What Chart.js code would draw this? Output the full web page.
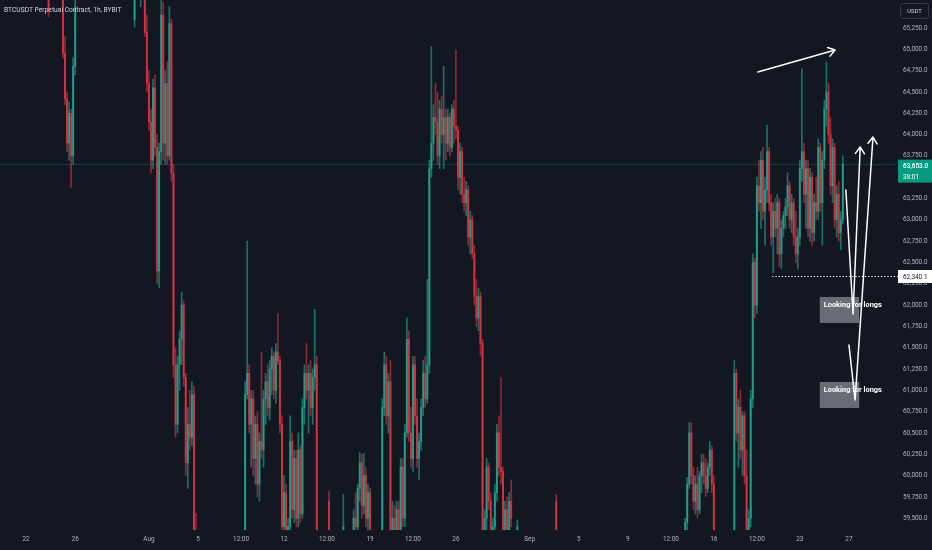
<!DOCTYPE html>
<html>
<head>
<meta charset="utf-8">
<title>BTCUSDT Perpetual Contract, 1h, BYBIT</title>
<script src="https://cdn.jsdelivr.net/npm/chart.js@4.4.1/dist/chart.umd.min.js"></script>
<style>
  html, body { margin: 0; padding: 0; background: #131722; }
  #wrap { width: 932px; height: 550px; }
</style>
</head>
<body>
<div id="wrap"><canvas id="chart" width="932" height="550"></canvas></div>
<script>
// hours counted from Jul 22 00:00 ; only the candles that show inside the price window
var candleHour = [
  44,72,76,80,84,88,92,96,
  212,224,
  232,236,240,244,248,252,256,260,264,268,272,276,280,284,288,292,296,300,304,308,312,316,320,324,328,332,
  428,432,436,440,444,448,452,456,460,464,468,472,476,480,484,488,492,496,500,504,508,512,516,520,524,528,532,536,540,544,548,552,556,560,564,568,
  592,620,640,644,648,652,656,660,664,668,672,
  696,700,704,708,712,716,720,724,728,732,736,740,744,748,752,756,760,764,768,772,776,780,784,788,792,796,800,804,808,812,816,820,824,828,832,836,840,844,848,852,856,860,864,868,872,876,880,884,888,892,896,900,904,908,912,916,920,924,928,932,936,940,944,948,960,1036,
  1288,1292,1296,1300,1304,1308,1312,1316,1320,1324,1328,1332,1336,1340,1344,
  1384,1388,1392,1396,1400,1404,1408,1412,1416,1420,1424,1428,1432,1436,1440,1444,1448,1452,1456,1460,1464,1468,1472,1476,1480,1484,1488,1492,1496,1500,1504,1508,1512,1516,1520,1524,1528,1532,1536,1540,1544,1548,1552,1556,1560,1564,1568,1572,1576,1580,1584,1588,1592,1596
];
var openVals = [
  65900,65800,64950,64420,63900,64250,63750,64800,
  65350,65700,
  65900,65200,64600,64150,63700,64550,63850,62400,63800,65400,63900,64600,63750,65300,63550,61300,60600,61300,61600,62000,61150,60150,60600,60450,60950,59300,
  59100,60950,61200,60600,60900,60200,60600,59900,60400,60300,60900,61100,60800,61250,61400,61000,61450,61350,60600,59400,59800,59200,59400,60400,59600,60200,59500,60300,59550,60800,61200,61000,61200,60800,61150,61300,
  59700,59300,59200,59500,59400,59850,60150,59650,60000,59500,59800,
  59100,60800,61300,60700,61100,59300,59500,59200,59600,59300,60100,59500,60500,61600,60500,60200,61300,60700,60200,60400,60800,61200,60900,61300,63600,63900,64200,64150,63750,64300,64000,64200,63900,64200,63850,64300,64100,64050,63500,63800,63300,63200,63350,62800,63000,62600,62100,61850,62100,61550,59300,59500,60100,59700,59200,59400,59800,60500,60100,60050,59300,59600,59350,59700,59300,59700,
  59100,59450,59900,60500,60000,59700,59900,59600,60000,60150,60000,59850,60100,60300,59900,
  59100,61200,60500,60800,60300,60700,60000,59200,59500,60900,62500,62000,63400,63200,63700,63100,63350,63800,63200,62800,63100,62900,63200,62600,62900,63050,63150,63400,63000,63200,62800,62600,62800,63600,63800,63300,63600,62900,63500,62850,63200,63100,63850,63200,63700,64300,64500,64000,63400,63850,63000,63300,62850,63000
];
var highVals = [
  66000,66000,65150,64500,64380,64300,64900,66000,
  66000,66000,
  66000,65400,64750,64300,64650,64700,64000,63900,66000,65550,64750,64850,65500,65350,63650,61500,61400,61700,62150,62050,61200,60800,61000,61100,61050,59560,
  61100,62750,61300,61000,61000,60700,60750,60500,61450,61000,61200,61300,61350,61500,61450,61550,61900,61400,60700,60000,59900,59500,60700,60500,60300,60300,60500,60350,60900,61300,61550,61300,61350,61250,61950,61400,
  59820,59780,59600,59800,59900,60270,60250,60260,60100,59900,59850,
  60900,61450,61400,61200,61350,59700,59650,59700,59700,60200,60200,60600,61850,61700,60800,61400,61400,60900,60500,60900,61350,61400,62300,63700,65030,64350,64600,64500,64400,64450,64800,64300,64300,64250,64350,64400,64990,64100,63900,63850,63500,63450,63400,63100,63050,62700,62300,62200,62150,61600,59600,60200,60150,59800,59500,59900,60600,60700,61150,60100,59700,59750,59800,59950,59480,59780,
  59500,59980,60620,60620,60100,60000,60100,60050,60250,60250,60200,60150,60400,60350,60000,
  61350,61250,60900,61000,60750,60750,60300,59600,61000,62600,62550,63500,63700,63800,63850,63500,64110,63850,63300,63200,63250,63300,63250,63000,63100,63250,63550,63450,63300,63250,63100,62900,63700,64770,63900,63700,63700,63600,63550,63300,63500,63950,63900,63800,64400,64850,64600,64200,63950,63900,63400,63450,63100,63750
];
var lowVals = [
  65380,64900,64350,63800,63700,63380,63650,64700,
  65260,65500,
  65150,64500,64050,63550,63600,63750,62250,62200,63650,63700,63650,63650,63700,63450,61150,60450,60500,61000,61300,61050,60000,59850,60300,60350,59000,59000,
  59000,60900,60500,60100,60000,59900,59750,59700,60200,60100,60600,60700,60650,60950,60900,60850,61300,60500,59200,59000,59000,59000,59300,59500,59450,59400,59400,59450,59500,60600,60900,60500,60700,60600,61000,59000,
  59000,59000,59000,59300,59350,59700,59500,59550,59400,59300,59000,
  59000,60700,60600,60500,59000,59000,59000,59000,59100,59100,59400,59400,60450,60400,60100,60050,60600,60100,59950,60300,60700,60800,60850,61200,63500,63700,64000,63650,63600,63900,63600,63700,63800,63750,63800,63900,63950,63350,63300,63200,63100,63050,62700,62600,62550,62000,61750,61700,61400,59000,59000,59300,59600,59000,59000,59200,59700,60000,59900,59200,59100,59250,59200,59400,59000,59000,
  59000,59350,59850,59900,59600,59550,59500,59550,59800,59900,59750,59800,60000,59800,59000,
  59000,60400,60100,60200,60000,59900,59000,59000,59400,60800,61850,61900,63100,62900,63000,62700,63200,63100,62700,62380,62800,62600,62450,62430,62800,62900,63050,62900,62850,62700,62500,62420,62700,63450,63200,62900,62800,62750,62700,62750,63000,63000,63100,62700,63600,64100,63900,63300,63200,62900,62800,62750,62650,62950
];
var closeVals = [
  65450,64950,64420,63900,64250,63750,64800,65500,
  65900,65800,
  65200,64600,64150,63700,64550,63850,62400,63800,65400,63900,64600,63750,65300,63550,61300,60600,61300,61600,62000,61150,60150,60600,60450,60950,59300,59150,
  60950,61200,60600,60900,60200,60600,59900,60400,60300,60900,61100,60800,61250,61400,61000,61450,61350,60600,59400,59800,59200,59400,60400,59600,60200,59500,60300,59550,60800,61200,61000,61200,60800,61150,61300,59300,
  59200,59400,59500,59400,59850,60150,59650,60000,59500,59800,59200,
  60800,61300,60700,61100,59300,59500,59200,59600,59300,60100,59500,60500,61600,60500,60200,61300,60700,60200,60400,60800,61200,60900,61300,63600,63900,64200,64150,63750,64300,64000,64200,63900,64200,63850,64300,64100,64050,63500,63800,63300,63200,63350,62800,63000,62600,62100,61850,62100,61550,59300,59500,60100,59700,59200,59400,59800,60500,60100,60050,59300,59600,59350,59700,59500,59400,59200,
  59450,59900,60500,60000,59700,59900,59600,60000,60150,60000,59850,60100,60300,59900,59300,
  61200,60500,60800,60300,60700,60000,59200,59500,60900,62500,62000,63400,63200,63700,63100,63350,63800,63200,62800,63100,62900,63200,62600,62900,63050,63150,63400,63000,63200,62800,62600,62800,63600,63800,63300,63600,62900,63500,62850,63200,63100,63850,63200,63700,64300,64500,64000,63400,63850,63000,63300,62850,63000,63653
];

// axis labels (hour offsets from Jul 22 00:00)
var xTickHours = [0, 96, 240, 336, 420, 504, 588, 672, 756, 840, 984, 1080, 1176, 1260, 1344, 1428, 1512, 1608];
var xTickLabels = ['22', '26', 'Aug', '5', '12:00', '12', '12:00', '19', '12:00', '26', 'Sep', '5', '9', '12:00', '16', '12:00', '23', '27'];
var yTickValues = [59500, 59750, 60000, 60250, 60500, 60750, 61000, 61250, 61500, 61750, 62000, 62250,
  62500, 62750, 63000, 63250, 63500, 63750, 64000, 64250, 64500, 64750, 65000, 65250];

var lastPrice = 63653.0;
var countdown = '38:01';
var supportPrice = 62340.1;
var supportFromHour = 1458;

// drawings, in (hour, price)
var trendArrow = [[1430, 64734], [1581, 64992]];
var longArrowA = [[1602, 63350], [1616, 61896], [1630, 63854]];
var longArrowB = [[1608, 61532], [1620, 60887], [1655, 63971]];
var noteText = 'Looking for longs';
var noteFrom = [1551, 1551];
var noteTo = [1628, 1628];
var noteTop = [62095, 61098];
var noteBottom = [61790, 60793];

var UP = 'rgba(34,171,148,0.8)', DOWN = 'rgba(242,54,69,0.75)';
var UP_WICK = 'rgba(34,171,148,0.6)', DOWN_WICK = 'rgba(242,54,69,0.55)';
var TEXT = '#b2b5be';
var FONT = 'Roboto, "Noto Sans", sans-serif';

function fmt(v) {
  return v.toLocaleString('en-US', { minimumFractionDigits: 1, maximumFractionDigits: 1 });
}
function isUp(i) { return closeVals[i] >= openVals[i]; }

var overlay = {
  id: 'overlay',
  beforeDraw: function(chart) {
    var c = chart.ctx;
    c.save();
    c.fillStyle = '#131722';
    c.fillRect(0, 0, chart.width, chart.height);
    c.restore();
  },
  beforeDatasetsDraw: function(chart) {
    var c = chart.ctx, a = chart.chartArea;
    var y = Math.round(chart.scales.y.getPixelForValue(lastPrice)) + 0.5;
    c.save();
    c.strokeStyle = 'rgba(8,153,129,0.3)';
    c.lineWidth = 1;
    c.beginPath(); c.moveTo(a.left, y); c.lineTo(a.right, y); c.stroke();
    c.restore();
  },
  afterDraw: function(chart) {
    var c = chart.ctx, a = chart.chartArea, xs = chart.scales.x, ys = chart.scales.y;
    function px(p) { return { x: xs.getPixelForValue(p[0]), y: ys.getPixelForValue(p[1]) }; }
    c.save();

    // title
    c.fillStyle = '#d1d4dc';
    c.font = '6.7px ' + FONT;
    c.textBaseline = 'middle';
    c.textAlign = 'left';
    c.fillText('BTCUSDT Perpetual Contract, 1h, BYBIT', 4, 10);

    // currency button
    c.strokeStyle = '#363a45';
    c.lineWidth = 1;
    c.beginPath();
    c.roundRect(900.5, 3.5, 28, 15, 2);
    c.stroke();
    c.fillStyle = '#d1d4dc';
    c.font = '5.8px ' + FONT;
    c.textAlign = 'center';
    c.fillText('USDT', 914.5, 11.5);

    // dotted support line
    var sy = Math.round(ys.getPixelForValue(supportPrice)) + 0.5;
    c.strokeStyle = '#ffffff';
    c.lineWidth = 1.2;
    c.setLineDash([1.2, 2]);
    c.beginPath(); c.moveTo(xs.getPixelForValue(supportFromHour), sy); c.lineTo(a.right + 3, sy); c.stroke();
    c.setLineDash([]);

    // price labels on the axis
    var lx = a.right + 3, lw = chart.width - lx;
    c.fillStyle = '#ffffff';
    c.fillRect(lx, sy - 6.5, lw, 13);
    c.fillStyle = '#131722';
    c.font = '6.4px ' + FONT;
    c.textAlign = 'left';
    c.fillText(fmt(supportPrice), lx + 5, sy + 0.5);

    var py = ys.getPixelForValue(lastPrice);
    c.fillStyle = '#089981';
    c.fillRect(lx, py - 4.5, lw, 23);
    c.fillStyle = '#ffffff';
    c.font = '600 6.4px ' + FONT;
    c.fillText(fmt(lastPrice), lx + 5, py + 2);
    c.font = '6.4px ' + FONT;
    c.fillText(countdown, lx + 5, py + 13);

    // note boxes
    for (var i = 0; i < noteFrom.length; i++) {
      var p1 = px([noteFrom[i], noteTop[i]]), p2 = px([noteTo[i], noteBottom[i]]);
      c.fillStyle = 'rgba(120,123,134,0.85)';
      c.fillRect(p1.x, p1.y, p2.x - p1.x, p2.y - p1.y);
      c.fillStyle = '#ffffff';
      c.font = 'bold 7.4px ' + FONT;
      c.fillText(noteText, p1.x + 4, p1.y + 8);
    }

    // arrows
    c.strokeStyle = '#ffffff';
    c.lineWidth = 1.5;
    c.lineCap = 'round';
    c.lineJoin = 'round';
    [trendArrow, longArrowA, longArrowB].forEach(function(path) {
      var pts = path.map(px);
      c.beginPath();
      c.moveTo(pts[0].x, pts[0].y);
      for (var k = 1; k < pts.length; k++) c.lineTo(pts[k].x, pts[k].y);
      var e = pts[pts.length - 1], b = pts[pts.length - 2];
      var ang = Math.atan2(e.y - b.y, e.x - b.x), len = 8, spr = 0.6;
      c.moveTo(e.x - len * Math.cos(ang - spr), e.y - len * Math.sin(ang - spr));
      c.lineTo(e.x, e.y);
      c.lineTo(e.x - len * Math.cos(ang + spr), e.y - len * Math.sin(ang + spr));
      c.stroke();
    });

    c.restore();
  }
};

var bodyData = candleHour.map(function(h, i) { return { x: h, y: [openVals[i], closeVals[i]] }; });
var wickData = candleHour.map(function(h, i) { return { x: h, y: [lowVals[i], highVals[i]] }; });

new Chart(document.getElementById('chart'), {
  type: 'bar',
  data: {
    datasets: [
      {
        label: 'body',
        data: bodyData,
        grouped: false,
        barThickness: 1.3,
        minBarLength: 1,
        backgroundColor: function(ctx) { return isUp(ctx.dataIndex) ? UP : DOWN; }
      },
      {
        label: 'wick',
        data: wickData,
        grouped: false,
        barThickness: 1,
        backgroundColor: function(ctx) { return isUp(ctx.dataIndex) ? UP_WICK : DOWN_WICK; }
      }
    ]
  },
  options: {
    responsive: false,
    animation: false,
    events: [],
    layout: { padding: 0 },
    plugins: { legend: { display: false }, tooltip: { enabled: false } },
    scales: {
      x: {
        type: 'linear',
        min: -51,
        max: 1698,
        offset: false,
        grid: { display: false, drawTicks: false },
        border: { display: false },
        ticks: {
          color: TEXT,
          font: { family: FONT, size: 6.4 },
          padding: 6,
          autoSkip: false,
          maxRotation: 0,
          callback: function(v) {
            var k = xTickHours.indexOf(v);
            return k < 0 ? '' : xTickLabels[k];
          }
        },
        afterBuildTicks: function(s) { s.ticks = xTickHours.map(function(v) { return { value: v }; }); },
        afterFit: function(s) { s.height = 20; s.paddingLeft = 0; s.paddingRight = 0; }
      },
      y: {
        type: 'linear',
        position: 'right',
        min: 59362,
        max: 65578,
        grid: { display: false, drawTicks: false },
        border: { display: false },
        ticks: {
          color: TEXT,
          font: { family: FONT, size: 6.4 },
          padding: 8,
          callback: function(v) { return fmt(v); }
        },
        afterBuildTicks: function(s) { s.ticks = yTickValues.map(function(v) { return { value: v }; }); },
        afterFit: function(s) { s.width = 37; s.paddingTop = 0; s.paddingBottom = 0; }
      }
    }
  },
  plugins: [overlay]
});
</script>
</body>
</html>
